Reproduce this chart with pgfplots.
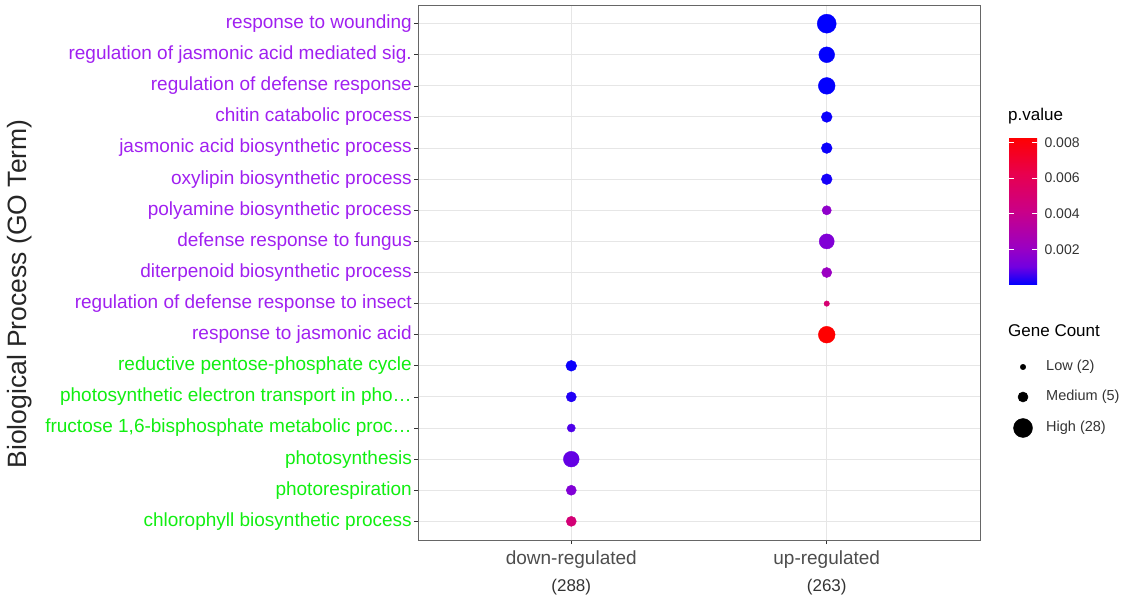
\documentclass[border=0pt]{standalone}
\usepackage{pgfplots}
\usepackage{pgfplotstable}
\pgfplotsset{compat=1.18}
\usepackage{fontspec}
\setmainfont{Liberation Sans}
\definecolor{gpurple}{HTML}{A020F0}
\definecolor{ggreen}{HTML}{11EE11}
\definecolor{grey30}{HTML}{4D4D4D}
\definecolor{grey20}{HTML}{333333}
\definecolor{gridc}{HTML}{E6E6E6}
\definecolor{borderc}{HTML}{666666}

% x: 1 = down-regulated, 2 = up-regulated ; y: term index (1 = top)
% p = p.value, n = gene count
\pgfplotstableread{
x y p n
2 1 0.00001 28
2 2 0.00002 17
2 3 0.00003 20
2 4 0.00010 6
2 5 0.00010 6
2 6 0.00020 6
2 7 0.00180 4
2 8 0.00140 15
2 9 0.00210 5
2 10 0.00500 2
2 11 0.00830 20
1 12 0.00010 6
1 13 0.00030 5
1 14 0.00070 3
1 15 0.00090 17
1 16 0.00140 5
1 17 0.00480 5
}\godata

\pgfplotstableread{
x y n
10 71 2
10 41 5
10 10 28
}\sizelegend

\begin{document}
\begin{tikzpicture}
\useasboundingbox (0pt,0pt) rectangle (1124pt,597pt);
\node[rotate=90, font=\fontsize{26.5}{30}\selectfont, text=black!85, inner sep=0pt] at (20pt,303pt) {Biological Process (GO Term)};
\begin{axis}[
  at={(418pt,57pt)}, anchor=south west,
  scale only axis, width=562pt, height=535pt,
  xmin=0.4, xmax=2.6, ymin=0.4, ymax=17.6, y dir=reverse,
  xtick={1,2}, ytick={1,...,17},
  xticklabels={{down-regulated\\[5pt]{\fontsize{17}{20}\selectfont\color{grey20}(288)}},{up-regulated\\[5pt]{\fontsize{17}{20}\selectfont\color{grey20}(263)}}},
  yticklabels={
    {\color{gpurple}response to wounding},
    {\color{gpurple}regulation of jasmonic acid mediated sig.},
    {\color{gpurple}regulation of defense response},
    {\color{gpurple}chitin catabolic process},
    {\color{gpurple}jasmonic acid biosynthetic process},
    {\color{gpurple}oxylipin biosynthetic process},
    {\color{gpurple}polyamine biosynthetic process},
    {\color{gpurple}defense response to fungus},
    {\color{gpurple}diterpenoid biosynthetic process},
    {\color{gpurple}regulation of defense response to insect},
    {\color{gpurple}response to jasmonic acid},
    {\color{ggreen}reductive pentose-phosphate cycle},
    {\color{ggreen}photosynthetic electron transport in pho…},
    {\color{ggreen}fructose 1,6-bisphosphate metabolic proc…},
    {\color{ggreen}photosynthesis},
    {\color{ggreen}photorespiration},
    {\color{ggreen}chlorophyll biosynthetic process}},
  xticklabel style={align=center, text=grey30, font=\fontsize{19}{22}\selectfont, inner sep=2pt, yshift=-5pt},
  yticklabel style={font=\fontsize{19}{22}\selectfont, inner sep=2pt},
  tick pos=left, tick align=outside, major tick length=4pt,
  major tick style={grey20, line width=0.7pt},
  grid=major, major grid style={gridc, line width=1pt},
  axis line style={borderc, line width=0.8pt},
  /pgf/number format/assume math mode=true,
  colormap={ggbr}{rgb255(0cm)=(0,0,255); rgb255(1cm)=(115,0,224); rgb255(2cm)=(154,0,195); rgb255(4cm)=(202,0,136); rgb255(6cm)=(232,0,79); rgb255(8cm)=(255,0,0)},
  point meta min=0, point meta max=0.0083,
  colorbar,
  colorbar shift/.style={},
  colorbar/width=28pt,
  colorbar style={
    at={(parent axis.north east)}, anchor=north west, xshift=29pt, yshift=-132pt,
    scale only axis, width=28pt, height=148pt,
    ytick={0.002,0.004,0.006,0.008}, scaled y ticks=false,
    yticklabel style={font=\fontsize{14}{16}\selectfont, text=grey20, xshift=4pt,
      /pgf/number format/.cd, fixed, precision=3, fixed zerofill, assume math mode=true},
    yticklabel pos=right, ytick pos=both,
    tick align=inside, major tick length=5pt, major tick style={white, line width=0.7pt},
    axis line style={draw=none}, axis on top,
    title={p.value},
    title style={at={(0,1)}, anchor=south west, inner sep=0pt, yshift=7pt, xshift=-1pt, font=\fontsize{17}{20}\selectfont},
  },
]
\addplot[scatter, only marks, mark=*, scatter src=explicit,
  visualization depends on={0.5*(2.7*(1+5*sqrt((\thisrow{n}-2)/26))+2.8) \as \rad},
  scatter/use mapped color={draw=mapped color, fill=mapped color},
  scatter/@pre marker code/.append style={/tikz/mark size=\rad, /tikz/line width=0.1pt},
] table[x=x, y=y, meta=p] {\godata};
\end{axis}

\begin{axis}[
  at={(1013pt,159pt)}, anchor=south west,
  scale only axis, width=100pt, height=110pt,
  xmin=0, xmax=100, ymin=0, ymax=110, hide axis, clip=false,
]
\addplot[scatter, only marks, mark=*, point meta=\thisrow{n},
  visualization depends on={0.5*(2.7*(1+5*sqrt((\thisrow{n}-2)/26))+2.8) \as \rad},
  scatter/use mapped color={draw=black, fill=black},
  scatter/@pre marker code/.append style={/tikz/mark size=\rad, /tikz/line width=0.1pt},
] table[x=x, y=y] {\sizelegend};
\node[anchor=base west, inner sep=0pt, font=\fontsize{17}{20}\selectfont] at (axis cs:-5,101) {Gene Count};
\node[anchor=west, inner sep=0pt, font=\fontsize{14.5}{17}\selectfont, text=grey20] at (axis cs:33,71) {Low (2)};
\node[anchor=west, inner sep=0pt, font=\fontsize{14.5}{17}\selectfont, text=grey20] at (axis cs:33,41) {Medium (5)};
\node[anchor=west, inner sep=0pt, font=\fontsize{14.5}{17}\selectfont, text=grey20] at (axis cs:33,10) {High (28)};
\end{axis}
\end{tikzpicture}
\end{document}
